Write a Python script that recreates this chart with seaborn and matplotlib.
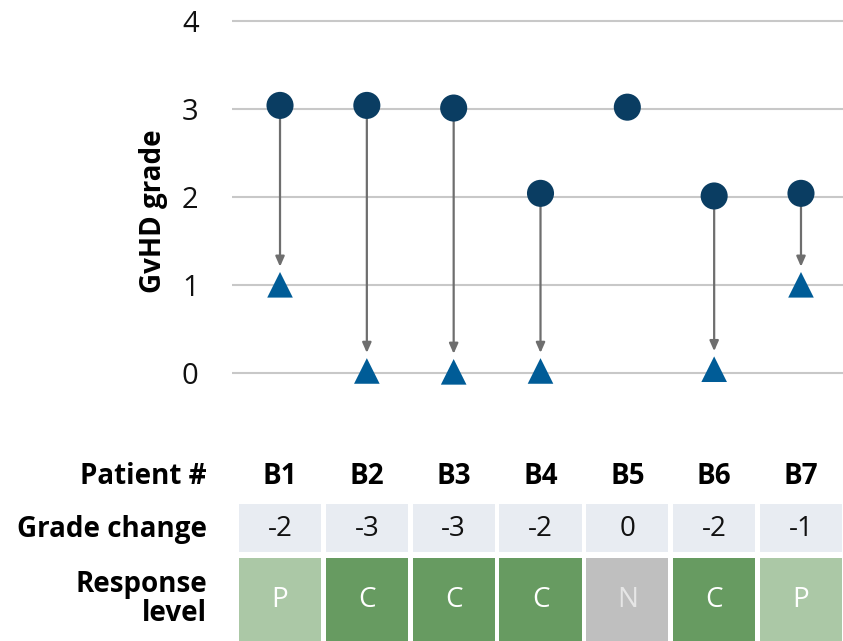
import matplotlib
matplotlib.use("Agg")
import matplotlib.pyplot as plt
import seaborn as sns
import pandas as pd
import numpy as np
from matplotlib.patches import Rectangle

patients = ["B1", "B2", "B3", "B4", "B5", "B6", "B7"]
grade_before = [3.04, 3.04, 3.01, 2.04, 3.02, 2.01, 2.04]
grade_after = [1.0, 0.02, 0.01, 0.02, np.nan, 0.04, 1.0]
grade_change = ["-2", "-3", "-3", "-2", "0", "-2", "-1"]
response = ["P", "C", "C", "C", "N", "C", "P"]
yticks = [0, 1, 2, 3, 4]

resp_colors = {"P": "#abc8a6", "C": "#679b61", "N": "#bfbfbf"}
c_circle = "#0a3d62"
c_tri = "#005c97"

sns.set_theme(style="white")
plt.rcParams["font.family"] = ["Open Sans", "DejaVu Sans"]
plt.rcParams["text.color"] = "#000000"

W, H = 843, 641
fig = plt.figure(figsize=(W / 100, H / 100), dpi=100)

def px_axes(x0, y0, x1, y1):
    return fig.add_axes([x0 / W, 1 - y1 / H, (x1 - x0) / W, (y1 - y0) / H])

ax = px_axes(232, 10, 843, 400)
df = pd.DataFrame({"x": np.arange(len(patients)), "before": grade_before, "after": grade_after})

# arrows
for i, (b, a) in enumerate(zip(grade_before, grade_after)):
    if not np.isnan(a):
        ax.annotate("", xy=(i, a), xytext=(i, b),
                    arrowprops=dict(arrowstyle="-|>,head_length=0.5,head_width=0.22",
                                    color="#6e6e6e", lw=1.6, shrinkA=9, shrinkB=13),
                    zorder=2)

sns.scatterplot(data=df, x="x", y="before", marker="o", s=380, color=c_circle,
                edgecolor="none", ax=ax, zorder=3)
sns.scatterplot(data=df.dropna(), x="x", y="after", marker="^", s=340, color=c_tri,
                edgecolor="none", ax=ax, zorder=3)

x0 = -(280 - 232) / 86.8
x1 = 6 + (843 - 801) / 86.8
ax.set_xlim(x0, x1)
ax.set_ylim(-(400 - 372.7) / 88, 4 + 11 / 88)
ax.set_yticks(yticks)
ax.set_yticklabels([str(t) for t in yticks], fontsize=21, color="#111111")
ax.set_xticks([])
ax.set_xlabel("")
ax.set_ylabel("GvHD grade", fontsize=20, fontweight="bold", color="#000000")
ax.yaxis.set_label_coords(-0.105, 0.485)
ax.grid(axis="y", color="#c8c8c8", lw=1.5)
ax.set_axisbelow(True)
ax.tick_params(axis="y", length=0, pad=24)
for s in ax.spines.values():
    s.set_visible(False)

# table axes
tax = px_axes(232, 440, 843, 641)
tax.set_xlim(x0, x1)
tax.set_ylim(641, 440)
tax.axis("off")
cw = 82 / 86.8
for i, p in enumerate(patients):
    tax.text(i, 476, p, ha="center", va="center", fontsize=20, fontweight="bold", color="#000000")
    tax.add_patch(Rectangle((i - cw / 2, 504), cw, 48, facecolor="#e8ecf2", edgecolor="none"))
    tax.text(i, 529, grade_change[i], ha="center", va="center", fontsize=20, color="#111111")
    tax.add_patch(Rectangle((i - cw / 2, 558), cw, 90, facecolor=resp_colors[response[i]],
                            edgecolor="none", clip_on=False))
    tax.text(i, 600, response[i], ha="center", va="center", fontsize=20,
             color="#ffffff" if response[i] != "N" else "#e6e6e6")

fig.text(207 / W, 1 - 476 / H, "Patient #", ha="right", va="center", fontsize=20,
         fontweight="bold", color="#000000")
fig.text(207 / W, 1 - 529 / H, "Grade change", ha="right", va="center", fontsize=20,
         fontweight="bold", color="#000000")
fig.text(207 / W, 1 - 599 / H, "Response\nlevel", ha="right", va="center", fontsize=20,
         fontweight="bold", linespacing=1.0, color="#000000")

fig.savefig("out.png", dpi=100)
